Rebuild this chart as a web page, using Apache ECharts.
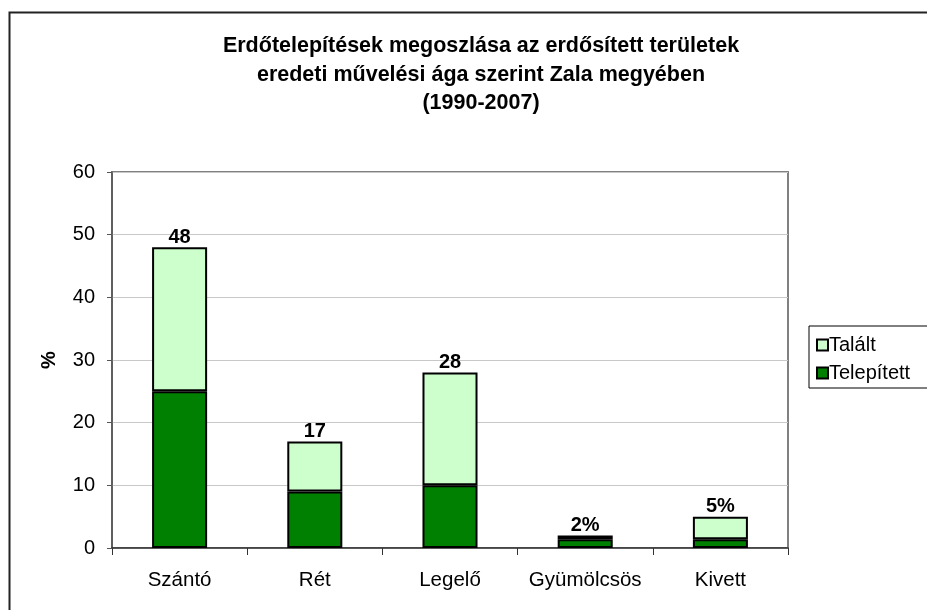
<!DOCTYPE html>
<html>
<head>
<meta charset="utf-8">
<script src="https://cdn.jsdelivr.net/npm/echarts@6/dist/echarts.min.js"></script>
<style>
  html, body { margin: 0; padding: 0; background: #fff; }
  #chart { width: 927px; height: 610px; }
</style>
</head>
<body>
<div id="chart"></div>
<script>
// Original land-use categories of afforested areas
const categories = ['Szántó', 'Rét', 'Legelő', 'Gyümölcsös', 'Kivett'];
// Share (%) planted and found, stacked
const telepitett = [25, 9, 10, 1.4, 1.4];
const talalt = [23, 8, 18, 0.6, 3.6];
// Labels shown above each stacked column
const totalLabels = ['48', '17', '28', '2%', '5%'];
// Value axis ticks
const yTicks = [0, 10, 20, 30, 40, 50, 60];

const font = 'Liberation Sans, Arial, sans-serif';
const chart = echarts.init(document.getElementById('chart'), null, { renderer: 'canvas' });

chart.setOption({
  backgroundColor: '#ffffff',
  animation: false,
  textStyle: { fontFamily: font },
  title: {
    text: 'Erdőtelepítések megoszlása az erdősített területek\neredeti művelési ága szerint Zala megyében\n(1990-2007)',
    left: 476,
    textAlign: 'center',
    top: 27,
    textStyle: { fontFamily: font, fontSize: 21.5, fontWeight: 'bold', color: '#000', lineHeight: 28.5 }
  },
  graphic: [{
    type: 'rect',
    silent: true,
    shape: { x: 9.5, y: 12.5, width: 940, height: 640 },
    style: { fill: 'none', stroke: '#222', lineWidth: 2 }
  }],
  legend: {
    orient: 'vertical',
    left: 809,
    top: 326,
    itemWidth: 11,
    itemHeight: 11,
    itemGap: 8,
    padding: [9, 40, 5, 7],
    borderColor: '#000',
    borderWidth: 1,
    data: ['Talált', 'Telepített'],
    textStyle: { fontFamily: font, fontSize: 20, color: '#000', padding: [0, 0, 0, -4] },
    icon: 'rect'
  },
  grid: {
    left: 112, top: 172, right: 139, bottom: 62,
    show: true, borderColor: '#808080', borderWidth: 2
  },
  xAxis: {
    type: 'category',
    data: categories,
    axisLine: { lineStyle: { color: '#333', width: 1.5 } },
    axisTick: { show: true, length: 7, lineStyle: { color: '#333' } },
    axisLabel: { fontFamily: font, fontSize: 20.5, color: '#000', margin: 22, interval: 0 }
  },
  yAxis: {
    type: 'value',
    min: yTicks[0],
    max: yTicks[yTicks.length - 1],
    interval: 10,
    name: '%',
    nameLocation: 'middle',
    nameRotate: 90,
    nameGap: 53,
    nameTextStyle: { fontFamily: font, fontSize: 20, fontWeight: 'bold', color: '#000' },
    axisLine: { show: true, lineStyle: { color: '#555', width: 1.5 } },
    axisTick: { show: true, length: 5, lineStyle: { color: '#555' } },
    axisLabel: { fontFamily: font, fontSize: 20, color: '#000', margin: 17 },
    splitLine: { lineStyle: { color: '#c8c8c8', width: 1 } }
  },
  series: [
    {
      name: 'Telepített',
      type: 'bar',
      stack: 'total',
      barWidth: '40.7%',
      data: telepitett,
      itemStyle: { color: '#008000', borderColor: '#000', borderWidth: 2 }
    },
    {
      name: 'Talált',
      type: 'bar',
      stack: 'total',
      data: talalt,
      itemStyle: { color: '#ccffcc', borderColor: '#000', borderWidth: 2 },
      label: {
        show: true,
        position: 'top',
        distance: 0,
        formatter: p => totalLabels[p.dataIndex],
        fontFamily: font,
        fontSize: 20,
        fontWeight: 'bold',
        color: '#000'
      }
    }
  ]
});
</script>
</body>
</html>
